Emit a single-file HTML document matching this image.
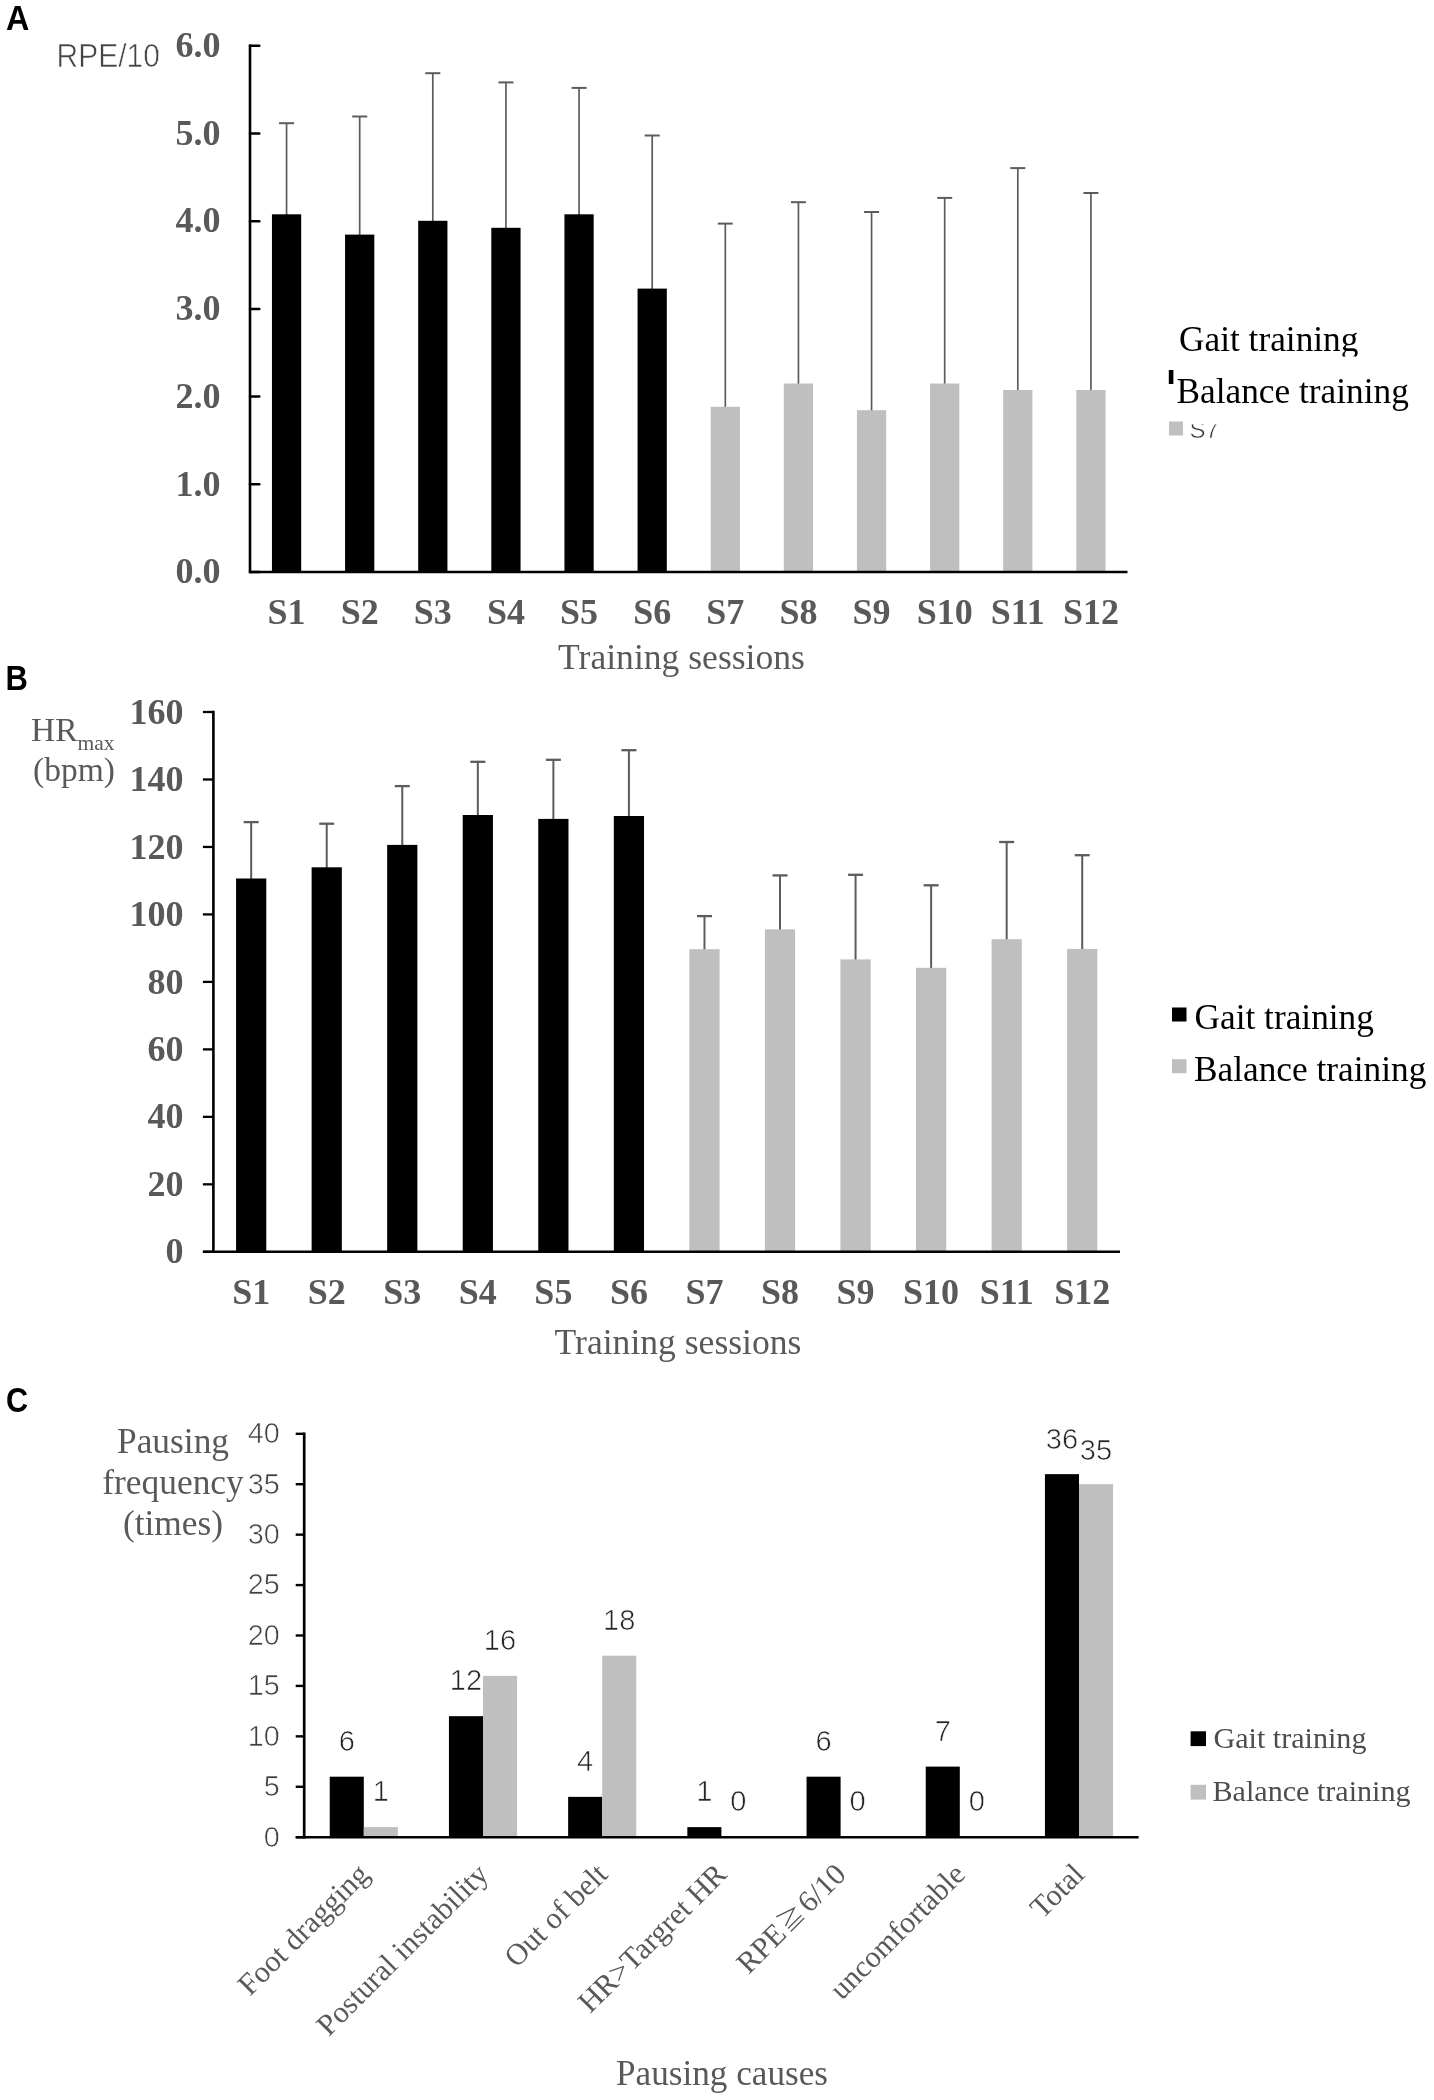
<!DOCTYPE html>
<html lang="en">
<head>
<meta charset="utf-8">
<title>Figure: RPE, HRmax and pausing frequency across training sessions</title>
<style>
html,body{margin:0;padding:0;background:#fff;}
body{width:1434px;height:2100px;overflow:hidden;font-family:"Liberation Serif",serif;}
svg{display:block;filter:grayscale(1);}
text{white-space:pre;}
.thin{stroke:#fff;stroke-width:0.65px;paint-order:fill stroke;}
</style>
</head>
<body>
<svg width="1434" height="2100" viewBox="0 0 1434 2100">
<rect x="0" y="0" width="1434" height="2100" fill="#fff"/>
<!-- Panel A -->
<text transform="translate(6.1,29.6) scale(0.94,1)" font-family='"Liberation Sans", sans-serif' font-size="34.4" font-weight="bold" fill="#000" text-anchor="start" >A</text>
<line x1="286.56" y1="123.2" x2="286.56" y2="215.3" stroke="#5c5c5c" stroke-width="1.7" stroke-linecap="butt"/>
<line x1="279.06" y1="123.2" x2="294.06" y2="123.2" stroke="#5c5c5c" stroke-width="2" stroke-linecap="butt"/>
<rect x="271.94" y="214.3" width="29.25" height="357.7" fill="#000"/>
<text x="286.56" y="623.5" font-family='"Liberation Serif", serif' font-size="36" font-weight="bold" fill="#595959" text-anchor="middle" >S1</text>
<line x1="359.69" y1="116.5" x2="359.69" y2="235.6" stroke="#5c5c5c" stroke-width="1.7" stroke-linecap="butt"/>
<line x1="352.19" y1="116.5" x2="367.19" y2="116.5" stroke="#5c5c5c" stroke-width="2" stroke-linecap="butt"/>
<rect x="345.06" y="234.6" width="29.25" height="337.4" fill="#000"/>
<text x="359.69" y="623.5" font-family='"Liberation Serif", serif' font-size="36" font-weight="bold" fill="#595959" text-anchor="middle" >S2</text>
<line x1="432.81" y1="73.2" x2="432.81" y2="221.8" stroke="#5c5c5c" stroke-width="1.7" stroke-linecap="butt"/>
<line x1="425.31" y1="73.2" x2="440.31" y2="73.2" stroke="#5c5c5c" stroke-width="2" stroke-linecap="butt"/>
<rect x="418.19" y="220.8" width="29.25" height="351.2" fill="#000"/>
<text x="432.81" y="623.5" font-family='"Liberation Serif", serif' font-size="36" font-weight="bold" fill="#595959" text-anchor="middle" >S3</text>
<line x1="505.94" y1="82.4" x2="505.94" y2="228.8" stroke="#5c5c5c" stroke-width="1.7" stroke-linecap="butt"/>
<line x1="498.44" y1="82.4" x2="513.44" y2="82.4" stroke="#5c5c5c" stroke-width="2" stroke-linecap="butt"/>
<rect x="491.31" y="227.8" width="29.25" height="344.2" fill="#000"/>
<text x="505.94" y="623.5" font-family='"Liberation Serif", serif' font-size="36" font-weight="bold" fill="#595959" text-anchor="middle" >S4</text>
<line x1="579.06" y1="87.9" x2="579.06" y2="215.3" stroke="#5c5c5c" stroke-width="1.7" stroke-linecap="butt"/>
<line x1="571.56" y1="87.9" x2="586.56" y2="87.9" stroke="#5c5c5c" stroke-width="2" stroke-linecap="butt"/>
<rect x="564.44" y="214.3" width="29.25" height="357.7" fill="#000"/>
<text x="579.06" y="623.5" font-family='"Liberation Serif", serif' font-size="36" font-weight="bold" fill="#595959" text-anchor="middle" >S5</text>
<line x1="652.19" y1="135.5" x2="652.19" y2="289.6" stroke="#5c5c5c" stroke-width="1.7" stroke-linecap="butt"/>
<line x1="644.69" y1="135.5" x2="659.69" y2="135.5" stroke="#5c5c5c" stroke-width="2" stroke-linecap="butt"/>
<rect x="637.56" y="288.6" width="29.25" height="283.4" fill="#000"/>
<text x="652.19" y="623.5" font-family='"Liberation Serif", serif' font-size="36" font-weight="bold" fill="#595959" text-anchor="middle" >S6</text>
<line x1="725.31" y1="223.6" x2="725.31" y2="407.8" stroke="#5c5c5c" stroke-width="1.7" stroke-linecap="butt"/>
<line x1="717.81" y1="223.6" x2="732.81" y2="223.6" stroke="#5c5c5c" stroke-width="2" stroke-linecap="butt"/>
<rect x="710.69" y="406.8" width="29.25" height="165.2" fill="#bfbfbf"/>
<text x="725.31" y="623.5" font-family='"Liberation Serif", serif' font-size="36" font-weight="bold" fill="#595959" text-anchor="middle" >S7</text>
<line x1="798.44" y1="202.2" x2="798.44" y2="384.5" stroke="#5c5c5c" stroke-width="1.7" stroke-linecap="butt"/>
<line x1="790.94" y1="202.2" x2="805.94" y2="202.2" stroke="#5c5c5c" stroke-width="2" stroke-linecap="butt"/>
<rect x="783.81" y="383.5" width="29.25" height="188.5" fill="#bfbfbf"/>
<text x="798.44" y="623.5" font-family='"Liberation Serif", serif' font-size="36" font-weight="bold" fill="#595959" text-anchor="middle" >S8</text>
<line x1="871.56" y1="212" x2="871.56" y2="411.2" stroke="#5c5c5c" stroke-width="1.7" stroke-linecap="butt"/>
<line x1="864.06" y1="212" x2="879.06" y2="212" stroke="#5c5c5c" stroke-width="2" stroke-linecap="butt"/>
<rect x="856.94" y="410.2" width="29.25" height="161.8" fill="#bfbfbf"/>
<text x="871.56" y="623.5" font-family='"Liberation Serif", serif' font-size="36" font-weight="bold" fill="#595959" text-anchor="middle" >S9</text>
<line x1="944.69" y1="197.9" x2="944.69" y2="384.5" stroke="#5c5c5c" stroke-width="1.7" stroke-linecap="butt"/>
<line x1="937.19" y1="197.9" x2="952.19" y2="197.9" stroke="#5c5c5c" stroke-width="2" stroke-linecap="butt"/>
<rect x="930.06" y="383.5" width="29.25" height="188.5" fill="#bfbfbf"/>
<text x="944.69" y="623.5" font-family='"Liberation Serif", serif' font-size="36" font-weight="bold" fill="#595959" text-anchor="middle" >S10</text>
<line x1="1017.81" y1="168.1" x2="1017.81" y2="391" stroke="#5c5c5c" stroke-width="1.7" stroke-linecap="butt"/>
<line x1="1010.31" y1="168.1" x2="1025.31" y2="168.1" stroke="#5c5c5c" stroke-width="2" stroke-linecap="butt"/>
<rect x="1003.19" y="390" width="29.25" height="182" fill="#bfbfbf"/>
<text x="1017.81" y="623.5" font-family='"Liberation Serif", serif' font-size="36" font-weight="bold" fill="#595959" text-anchor="middle" >S11</text>
<line x1="1090.94" y1="193" x2="1090.94" y2="391" stroke="#5c5c5c" stroke-width="1.7" stroke-linecap="butt"/>
<line x1="1083.44" y1="193" x2="1098.44" y2="193" stroke="#5c5c5c" stroke-width="2" stroke-linecap="butt"/>
<rect x="1076.31" y="390" width="29.25" height="182" fill="#bfbfbf"/>
<text x="1090.94" y="623.5" font-family='"Liberation Serif", serif' font-size="36" font-weight="bold" fill="#595959" text-anchor="middle" >S12</text>
<line x1="250" y1="44.6" x2="250" y2="573.2" stroke="#000" stroke-width="2.6" stroke-linecap="butt"/>
<line x1="250" y1="572" x2="1127.5" y2="572" stroke="#000" stroke-width="2.4" stroke-linecap="butt"/>
<line x1="250" y1="572" x2="259.3" y2="572" stroke="#000" stroke-width="2.5" stroke-linecap="round"/>
<text x="220.5" y="583.2" font-family='"Liberation Serif", serif' font-size="36" font-weight="bold" fill="#595959" text-anchor="end" >0.0</text>
<line x1="250" y1="484.3" x2="259.3" y2="484.3" stroke="#000" stroke-width="2.5" stroke-linecap="round"/>
<text x="220.5" y="495.5" font-family='"Liberation Serif", serif' font-size="36" font-weight="bold" fill="#595959" text-anchor="end" >1.0</text>
<line x1="250" y1="396.6" x2="259.3" y2="396.6" stroke="#000" stroke-width="2.5" stroke-linecap="round"/>
<text x="220.5" y="407.8" font-family='"Liberation Serif", serif' font-size="36" font-weight="bold" fill="#595959" text-anchor="end" >2.0</text>
<line x1="250" y1="308.9" x2="259.3" y2="308.9" stroke="#000" stroke-width="2.5" stroke-linecap="round"/>
<text x="220.5" y="320.1" font-family='"Liberation Serif", serif' font-size="36" font-weight="bold" fill="#595959" text-anchor="end" >3.0</text>
<line x1="250" y1="221.2" x2="259.3" y2="221.2" stroke="#000" stroke-width="2.5" stroke-linecap="round"/>
<text x="220.5" y="232.4" font-family='"Liberation Serif", serif' font-size="36" font-weight="bold" fill="#595959" text-anchor="end" >4.0</text>
<line x1="250" y1="133.5" x2="259.3" y2="133.5" stroke="#000" stroke-width="2.5" stroke-linecap="round"/>
<text x="220.5" y="144.7" font-family='"Liberation Serif", serif' font-size="36" font-weight="bold" fill="#595959" text-anchor="end" >5.0</text>
<line x1="250" y1="45.8" x2="259.3" y2="45.8" stroke="#000" stroke-width="2.5" stroke-linecap="round"/>
<text x="220.5" y="57" font-family='"Liberation Serif", serif' font-size="36" font-weight="bold" fill="#595959" text-anchor="end" >6.0</text>
<text transform="translate(56.5,66.5) scale(0.91,1)" font-family='"Liberation Sans", sans-serif' font-size="33" font-weight="normal" fill="#444444" text-anchor="start" class="thin">RPE/10</text>
<text x="681.5" y="669" font-family='"Liberation Serif", serif' font-size="35.6" font-weight="normal" fill="#595959" text-anchor="middle" >Training sessions</text>
<clipPath id="cA1"><rect x="1170" y="315" width="200" height="41.5"/></clipPath>
<g clip-path="url(#cA1)">
<text x="1179" y="351" font-family='"Liberation Serif", serif' font-size="35.3" font-weight="normal" fill="#000" text-anchor="start" >Gait training</text>
</g>
<rect x="1168.8" y="370" width="4.6" height="14" fill="#000"/>
<text x="1176.5" y="402.5" font-family='"Liberation Serif", serif' font-size="35.3" font-weight="normal" fill="#000" text-anchor="start" >Balance training</text>
<rect x="1169" y="421.5" width="14" height="14" fill="#bfbfbf"/>
<clipPath id="cA2"><rect x="1185" y="424.5" width="60" height="20"/></clipPath>
<g clip-path="url(#cA2)">
<text x="1189.5" y="437.5" font-family='"Liberation Sans", sans-serif' font-size="24" font-weight="normal" fill="#262626" text-anchor="start" class="thin">S7</text>
</g>
<!-- Panel B -->
<text transform="translate(5.5,690) scale(0.9,1)" font-family='"Liberation Sans", sans-serif' font-size="34.4" font-weight="bold" fill="#000" text-anchor="start" >B</text>
<line x1="251.18" y1="822.1" x2="251.18" y2="879.5" stroke="#5c5c5c" stroke-width="2" stroke-linecap="butt"/>
<line x1="243.68" y1="822.1" x2="258.68" y2="822.1" stroke="#5c5c5c" stroke-width="2.3" stroke-linecap="butt"/>
<rect x="236.06" y="878.5" width="30.22" height="373.3" fill="#000"/>
<text x="251.18" y="1303.5" font-family='"Liberation Serif", serif' font-size="36" font-weight="bold" fill="#595959" text-anchor="middle" >S1</text>
<line x1="326.73" y1="823.7" x2="326.73" y2="868.3" stroke="#5c5c5c" stroke-width="2" stroke-linecap="butt"/>
<line x1="319.23" y1="823.7" x2="334.23" y2="823.7" stroke="#5c5c5c" stroke-width="2.3" stroke-linecap="butt"/>
<rect x="311.62" y="867.3" width="30.22" height="384.5" fill="#000"/>
<text x="326.73" y="1303.5" font-family='"Liberation Serif", serif' font-size="36" font-weight="bold" fill="#595959" text-anchor="middle" >S2</text>
<line x1="402.27" y1="786.1" x2="402.27" y2="845.9" stroke="#5c5c5c" stroke-width="2" stroke-linecap="butt"/>
<line x1="394.77" y1="786.1" x2="409.77" y2="786.1" stroke="#5c5c5c" stroke-width="2.3" stroke-linecap="butt"/>
<rect x="387.16" y="844.9" width="30.22" height="406.9" fill="#000"/>
<text x="402.27" y="1303.5" font-family='"Liberation Serif", serif' font-size="36" font-weight="bold" fill="#595959" text-anchor="middle" >S3</text>
<line x1="477.83" y1="761.8" x2="477.83" y2="816" stroke="#5c5c5c" stroke-width="2" stroke-linecap="butt"/>
<line x1="470.33" y1="761.8" x2="485.33" y2="761.8" stroke="#5c5c5c" stroke-width="2.3" stroke-linecap="butt"/>
<rect x="462.72" y="815" width="30.22" height="436.8" fill="#000"/>
<text x="477.83" y="1303.5" font-family='"Liberation Serif", serif' font-size="36" font-weight="bold" fill="#595959" text-anchor="middle" >S4</text>
<line x1="553.38" y1="759.8" x2="553.38" y2="819.9" stroke="#5c5c5c" stroke-width="2" stroke-linecap="butt"/>
<line x1="545.88" y1="759.8" x2="560.88" y2="759.8" stroke="#5c5c5c" stroke-width="2.3" stroke-linecap="butt"/>
<rect x="538.26" y="818.9" width="30.22" height="432.9" fill="#000"/>
<text x="553.38" y="1303.5" font-family='"Liberation Serif", serif' font-size="36" font-weight="bold" fill="#595959" text-anchor="middle" >S5</text>
<line x1="628.92" y1="750.2" x2="628.92" y2="817" stroke="#5c5c5c" stroke-width="2" stroke-linecap="butt"/>
<line x1="621.42" y1="750.2" x2="636.42" y2="750.2" stroke="#5c5c5c" stroke-width="2.3" stroke-linecap="butt"/>
<rect x="613.81" y="816" width="30.22" height="435.8" fill="#000"/>
<text x="628.92" y="1303.5" font-family='"Liberation Serif", serif' font-size="36" font-weight="bold" fill="#595959" text-anchor="middle" >S6</text>
<line x1="704.48" y1="916.1" x2="704.48" y2="950.2" stroke="#5c5c5c" stroke-width="2" stroke-linecap="butt"/>
<line x1="696.98" y1="916.1" x2="711.98" y2="916.1" stroke="#5c5c5c" stroke-width="2.3" stroke-linecap="butt"/>
<rect x="689.37" y="949.2" width="30.22" height="302.6" fill="#bfbfbf"/>
<text x="704.48" y="1303.5" font-family='"Liberation Serif", serif' font-size="36" font-weight="bold" fill="#595959" text-anchor="middle" >S7</text>
<line x1="780.02" y1="875.4" x2="780.02" y2="930.3" stroke="#5c5c5c" stroke-width="2" stroke-linecap="butt"/>
<line x1="772.52" y1="875.4" x2="787.52" y2="875.4" stroke="#5c5c5c" stroke-width="2.3" stroke-linecap="butt"/>
<rect x="764.91" y="929.3" width="30.22" height="322.5" fill="#bfbfbf"/>
<text x="780.02" y="1303.5" font-family='"Liberation Serif", serif' font-size="36" font-weight="bold" fill="#595959" text-anchor="middle" >S8</text>
<line x1="855.57" y1="874.8" x2="855.57" y2="960.4" stroke="#5c5c5c" stroke-width="2" stroke-linecap="butt"/>
<line x1="848.07" y1="874.8" x2="863.07" y2="874.8" stroke="#5c5c5c" stroke-width="2.3" stroke-linecap="butt"/>
<rect x="840.46" y="959.4" width="30.22" height="292.4" fill="#bfbfbf"/>
<text x="855.57" y="1303.5" font-family='"Liberation Serif", serif' font-size="36" font-weight="bold" fill="#595959" text-anchor="middle" >S9</text>
<line x1="931.12" y1="885.3" x2="931.12" y2="968.8" stroke="#5c5c5c" stroke-width="2" stroke-linecap="butt"/>
<line x1="923.62" y1="885.3" x2="938.62" y2="885.3" stroke="#5c5c5c" stroke-width="2.3" stroke-linecap="butt"/>
<rect x="916.01" y="967.8" width="30.22" height="284" fill="#bfbfbf"/>
<text x="931.12" y="1303.5" font-family='"Liberation Serif", serif' font-size="36" font-weight="bold" fill="#595959" text-anchor="middle" >S10</text>
<line x1="1006.67" y1="842" x2="1006.67" y2="940.2" stroke="#5c5c5c" stroke-width="2" stroke-linecap="butt"/>
<line x1="999.17" y1="842" x2="1014.17" y2="842" stroke="#5c5c5c" stroke-width="2.3" stroke-linecap="butt"/>
<rect x="991.56" y="939.2" width="30.22" height="312.6" fill="#bfbfbf"/>
<text x="1006.67" y="1303.5" font-family='"Liberation Serif", serif' font-size="36" font-weight="bold" fill="#595959" text-anchor="middle" >S11</text>
<line x1="1082.22" y1="855.2" x2="1082.22" y2="949.9" stroke="#5c5c5c" stroke-width="2" stroke-linecap="butt"/>
<line x1="1074.72" y1="855.2" x2="1089.72" y2="855.2" stroke="#5c5c5c" stroke-width="2.3" stroke-linecap="butt"/>
<rect x="1067.12" y="948.9" width="30.22" height="302.9" fill="#bfbfbf"/>
<text x="1082.22" y="1303.5" font-family='"Liberation Serif", serif' font-size="36" font-weight="bold" fill="#595959" text-anchor="middle" >S12</text>
<line x1="213.4" y1="710.8" x2="213.4" y2="1253" stroke="#000" stroke-width="2.6" stroke-linecap="butt"/>
<line x1="202.9" y1="1251.8" x2="1120" y2="1251.8" stroke="#000" stroke-width="2.4" stroke-linecap="butt"/>
<line x1="202.9" y1="1251.8" x2="213.4" y2="1251.8" stroke="#000" stroke-width="2.3" stroke-linecap="butt"/>
<text x="183.5" y="1263.4" font-family='"Liberation Serif", serif' font-size="36" font-weight="bold" fill="#595959" text-anchor="end" >0</text>
<line x1="202.9" y1="1184.33" x2="213.4" y2="1184.33" stroke="#000" stroke-width="2.3" stroke-linecap="butt"/>
<text x="183.5" y="1195.92" font-family='"Liberation Serif", serif' font-size="36" font-weight="bold" fill="#595959" text-anchor="end" >20</text>
<line x1="202.9" y1="1116.85" x2="213.4" y2="1116.85" stroke="#000" stroke-width="2.3" stroke-linecap="butt"/>
<text x="183.5" y="1128.45" font-family='"Liberation Serif", serif' font-size="36" font-weight="bold" fill="#595959" text-anchor="end" >40</text>
<line x1="202.9" y1="1049.38" x2="213.4" y2="1049.38" stroke="#000" stroke-width="2.3" stroke-linecap="butt"/>
<text x="183.5" y="1060.97" font-family='"Liberation Serif", serif' font-size="36" font-weight="bold" fill="#595959" text-anchor="end" >60</text>
<line x1="202.9" y1="981.9" x2="213.4" y2="981.9" stroke="#000" stroke-width="2.3" stroke-linecap="butt"/>
<text x="183.5" y="993.5" font-family='"Liberation Serif", serif' font-size="36" font-weight="bold" fill="#595959" text-anchor="end" >80</text>
<line x1="202.9" y1="914.42" x2="213.4" y2="914.42" stroke="#000" stroke-width="2.3" stroke-linecap="butt"/>
<text x="183.5" y="926.02" font-family='"Liberation Serif", serif' font-size="36" font-weight="bold" fill="#595959" text-anchor="end" >100</text>
<line x1="202.9" y1="846.95" x2="213.4" y2="846.95" stroke="#000" stroke-width="2.3" stroke-linecap="butt"/>
<text x="183.5" y="858.55" font-family='"Liberation Serif", serif' font-size="36" font-weight="bold" fill="#595959" text-anchor="end" >120</text>
<line x1="202.9" y1="779.48" x2="213.4" y2="779.48" stroke="#000" stroke-width="2.3" stroke-linecap="butt"/>
<text x="183.5" y="791.08" font-family='"Liberation Serif", serif' font-size="36" font-weight="bold" fill="#595959" text-anchor="end" >140</text>
<line x1="202.9" y1="712" x2="213.4" y2="712" stroke="#000" stroke-width="2.3" stroke-linecap="butt"/>
<text x="183.5" y="723.6" font-family='"Liberation Serif", serif' font-size="36" font-weight="bold" fill="#595959" text-anchor="end" >160</text>
<text x="31" y="741" font-family='"Liberation Serif", serif' font-size="33.5" fill="#595959">HR<tspan font-size="21.5" dy="8.5">max</tspan></text>
<text x="33" y="781" font-family='"Liberation Serif", serif' font-size="33.5" font-weight="normal" fill="#595959" text-anchor="start" >(bpm)</text>
<text x="678" y="1354" font-family='"Liberation Serif", serif' font-size="35.6" font-weight="normal" fill="#595959" text-anchor="middle" >Training sessions</text>
<rect x="1172" y="1007.5" width="14.5" height="14" fill="#000"/>
<text x="1194.5" y="1028.5" font-family='"Liberation Serif", serif' font-size="35.3" font-weight="normal" fill="#000" text-anchor="start" >Gait training</text>
<rect x="1172" y="1059.2" width="14.5" height="14" fill="#bfbfbf"/>
<text x="1194" y="1081" font-family='"Liberation Serif", serif' font-size="35.3" font-weight="normal" fill="#000" text-anchor="start" >Balance training</text>
<!-- Panel C -->
<text transform="translate(6,1411.6) scale(0.89,1)" font-family='"Liberation Sans", sans-serif' font-size="34.4" font-weight="bold" fill="#000" text-anchor="start" >C</text>
<rect x="329.74" y="1776.69" width="34.06" height="60.51" fill="#000"/>
<rect x="363.8" y="1827.12" width="34.06" height="10.09" fill="#bfbfbf"/>
<text transform="translate(346.77,1750.69) scale(0.97,1)" font-family='"Liberation Sans", sans-serif' font-size="30" font-weight="normal" fill="#262626" text-anchor="middle" class="thin">6</text>
<text transform="translate(380.83,1801.12) scale(0.97,1)" font-family='"Liberation Sans", sans-serif' font-size="30" font-weight="normal" fill="#262626" text-anchor="middle" class="thin">1</text>
<text transform="translate(370.8,1876) rotate(-45)" font-family='"Liberation Serif", serif' font-size="30.3" fill="#595959" text-anchor="end">Foot dragging</text>
<rect x="448.94" y="1716.18" width="34.06" height="121.02" fill="#000"/>
<rect x="483" y="1675.84" width="34.06" height="161.36" fill="#bfbfbf"/>
<text transform="translate(465.97,1690.18) scale(0.97,1)" font-family='"Liberation Sans", sans-serif' font-size="30" font-weight="normal" fill="#262626" text-anchor="middle" class="thin">12</text>
<text transform="translate(500.03,1649.84) scale(0.97,1)" font-family='"Liberation Sans", sans-serif' font-size="30" font-weight="normal" fill="#262626" text-anchor="middle" class="thin">16</text>
<text transform="translate(490,1876) rotate(-45)" font-family='"Liberation Serif", serif' font-size="30.3" fill="#595959" text-anchor="end">Postural instability</text>
<rect x="568.14" y="1796.86" width="34.06" height="40.34" fill="#000"/>
<rect x="602.2" y="1655.67" width="34.06" height="181.53" fill="#bfbfbf"/>
<text transform="translate(585.17,1770.86) scale(0.97,1)" font-family='"Liberation Sans", sans-serif' font-size="30" font-weight="normal" fill="#262626" text-anchor="middle" class="thin">4</text>
<text transform="translate(619.23,1629.67) scale(0.97,1)" font-family='"Liberation Sans", sans-serif' font-size="30" font-weight="normal" fill="#262626" text-anchor="middle" class="thin">18</text>
<text transform="translate(609.2,1876) rotate(-45)" font-family='"Liberation Serif", serif' font-size="30.3" fill="#595959" text-anchor="end">Out of belt</text>
<rect x="687.34" y="1827.12" width="34.06" height="10.09" fill="#000"/>
<text transform="translate(704.37,1801.12) scale(0.97,1)" font-family='"Liberation Sans", sans-serif' font-size="30" font-weight="normal" fill="#262626" text-anchor="middle" class="thin">1</text>
<text transform="translate(738.43,1811.2) scale(0.97,1)" font-family='"Liberation Sans", sans-serif' font-size="30" font-weight="normal" fill="#262626" text-anchor="middle" class="thin">0</text>
<text transform="translate(728.4,1876) rotate(-45)" font-family='"Liberation Serif", serif' font-size="30.3" fill="#595959" text-anchor="end">HR&gt;Targret HR</text>
<rect x="806.54" y="1776.69" width="34.06" height="60.51" fill="#000"/>
<text transform="translate(823.57,1750.69) scale(0.97,1)" font-family='"Liberation Sans", sans-serif' font-size="30" font-weight="normal" fill="#262626" text-anchor="middle" class="thin">6</text>
<text transform="translate(857.63,1811.2) scale(0.97,1)" font-family='"Liberation Sans", sans-serif' font-size="30" font-weight="normal" fill="#262626" text-anchor="middle" class="thin">0</text>
<g transform="translate(847.6,1876) rotate(-45)" font-family='"Liberation Serif", serif' font-size="30.3" fill="#595959">
<text x="0" y="0" text-anchor="end">6/10</text>
<path d="M-79.37 -21.5 L-60.37 -15 L-79.37 -8.5 M-79.37 -5 H-60.37 M-79.37 -1 H-60.37" fill="none" stroke="#595959" stroke-width="1.35"/>
<text x="-84.37" y="0" text-anchor="end">RPE</text>
</g>
<rect x="925.74" y="1766.61" width="34.06" height="70.6" fill="#000"/>
<text transform="translate(942.77,1740.61) scale(0.97,1)" font-family='"Liberation Sans", sans-serif' font-size="30" font-weight="normal" fill="#262626" text-anchor="middle" class="thin">7</text>
<text transform="translate(976.83,1811.2) scale(0.97,1)" font-family='"Liberation Sans", sans-serif' font-size="30" font-weight="normal" fill="#262626" text-anchor="middle" class="thin">0</text>
<text transform="translate(966.8,1876) rotate(-45)" font-family='"Liberation Serif", serif' font-size="30.3" fill="#595959" text-anchor="end">uncomfortable</text>
<rect x="1044.94" y="1474.14" width="34.06" height="363.06" fill="#000"/>
<rect x="1079" y="1484.22" width="34.06" height="352.98" fill="#bfbfbf"/>
<text transform="translate(1061.97,1449.44) scale(0.97,1)" font-family='"Liberation Sans", sans-serif' font-size="30" font-weight="normal" fill="#262626" text-anchor="middle" class="thin">36</text>
<text transform="translate(1096.03,1459.52) scale(0.97,1)" font-family='"Liberation Sans", sans-serif' font-size="30" font-weight="normal" fill="#262626" text-anchor="middle" class="thin">35</text>
<text transform="translate(1086,1876) rotate(-45)" font-family='"Liberation Serif", serif' font-size="30.3" fill="#595959" text-anchor="end">Total</text>
<line x1="304.2" y1="1432.6" x2="304.2" y2="1838.4" stroke="#000" stroke-width="2.7" stroke-linecap="butt"/>
<line x1="295.7" y1="1837.2" x2="1138.6" y2="1837.2" stroke="#000" stroke-width="2.4" stroke-linecap="butt"/>
<line x1="295.7" y1="1837.2" x2="304.2" y2="1837.2" stroke="#000" stroke-width="2.4" stroke-linecap="butt"/>
<text transform="translate(279.7,1846.6) scale(0.975,1)" font-family='"Liberation Sans", sans-serif' font-size="29.5" font-weight="normal" fill="#404040" text-anchor="end" class="thin">0</text>
<line x1="295.7" y1="1786.78" x2="304.2" y2="1786.78" stroke="#000" stroke-width="2.4" stroke-linecap="butt"/>
<text transform="translate(279.7,1796.18) scale(0.975,1)" font-family='"Liberation Sans", sans-serif' font-size="29.5" font-weight="normal" fill="#404040" text-anchor="end" class="thin">5</text>
<line x1="295.7" y1="1736.35" x2="304.2" y2="1736.35" stroke="#000" stroke-width="2.4" stroke-linecap="butt"/>
<text transform="translate(279.7,1745.75) scale(0.975,1)" font-family='"Liberation Sans", sans-serif' font-size="29.5" font-weight="normal" fill="#404040" text-anchor="end" class="thin">10</text>
<line x1="295.7" y1="1685.92" x2="304.2" y2="1685.92" stroke="#000" stroke-width="2.4" stroke-linecap="butt"/>
<text transform="translate(279.7,1695.33) scale(0.975,1)" font-family='"Liberation Sans", sans-serif' font-size="29.5" font-weight="normal" fill="#404040" text-anchor="end" class="thin">15</text>
<line x1="295.7" y1="1635.5" x2="304.2" y2="1635.5" stroke="#000" stroke-width="2.4" stroke-linecap="butt"/>
<text transform="translate(279.7,1644.9) scale(0.975,1)" font-family='"Liberation Sans", sans-serif' font-size="29.5" font-weight="normal" fill="#404040" text-anchor="end" class="thin">20</text>
<line x1="295.7" y1="1585.08" x2="304.2" y2="1585.08" stroke="#000" stroke-width="2.4" stroke-linecap="butt"/>
<text transform="translate(279.7,1594.48) scale(0.975,1)" font-family='"Liberation Sans", sans-serif' font-size="29.5" font-weight="normal" fill="#404040" text-anchor="end" class="thin">25</text>
<line x1="295.7" y1="1534.65" x2="304.2" y2="1534.65" stroke="#000" stroke-width="2.4" stroke-linecap="butt"/>
<text transform="translate(279.7,1544.05) scale(0.975,1)" font-family='"Liberation Sans", sans-serif' font-size="29.5" font-weight="normal" fill="#404040" text-anchor="end" class="thin">30</text>
<line x1="295.7" y1="1484.22" x2="304.2" y2="1484.22" stroke="#000" stroke-width="2.4" stroke-linecap="butt"/>
<text transform="translate(279.7,1493.62) scale(0.975,1)" font-family='"Liberation Sans", sans-serif' font-size="29.5" font-weight="normal" fill="#404040" text-anchor="end" class="thin">35</text>
<line x1="295.7" y1="1433.8" x2="304.2" y2="1433.8" stroke="#000" stroke-width="2.4" stroke-linecap="butt"/>
<text transform="translate(279.7,1443.2) scale(0.975,1)" font-family='"Liberation Sans", sans-serif' font-size="29.5" font-weight="normal" fill="#404040" text-anchor="end" class="thin">40</text>
<text x="173" y="1452.8" font-family='"Liberation Serif", serif' font-size="35.4" font-weight="normal" fill="#595959" text-anchor="middle" >Pausing</text>
<text x="173" y="1493.8" font-family='"Liberation Serif", serif' font-size="35.4" font-weight="normal" fill="#595959" text-anchor="middle" >frequency</text>
<text x="173" y="1534.8" font-family='"Liberation Serif", serif' font-size="35.4" font-weight="normal" fill="#595959" text-anchor="middle" >(times)</text>
<text x="722" y="2085" font-family='"Liberation Serif", serif' font-size="35.2" font-weight="normal" fill="#595959" text-anchor="middle" >Pausing causes</text>
<rect x="1190.6" y="1731.3" width="15.4" height="14.8" fill="#000"/>
<text x="1213.5" y="1748" font-family='"Liberation Serif", serif' font-size="30.1" font-weight="normal" fill="#4d4d4d" text-anchor="start" >Gait training</text>
<rect x="1190.6" y="1784.8" width="15.4" height="14.8" fill="#bfbfbf"/>
<text x="1212.5" y="1801" font-family='"Liberation Serif", serif' font-size="30.1" font-weight="normal" fill="#4d4d4d" text-anchor="start" >Balance training</text>
</svg>
</body>
</html>
